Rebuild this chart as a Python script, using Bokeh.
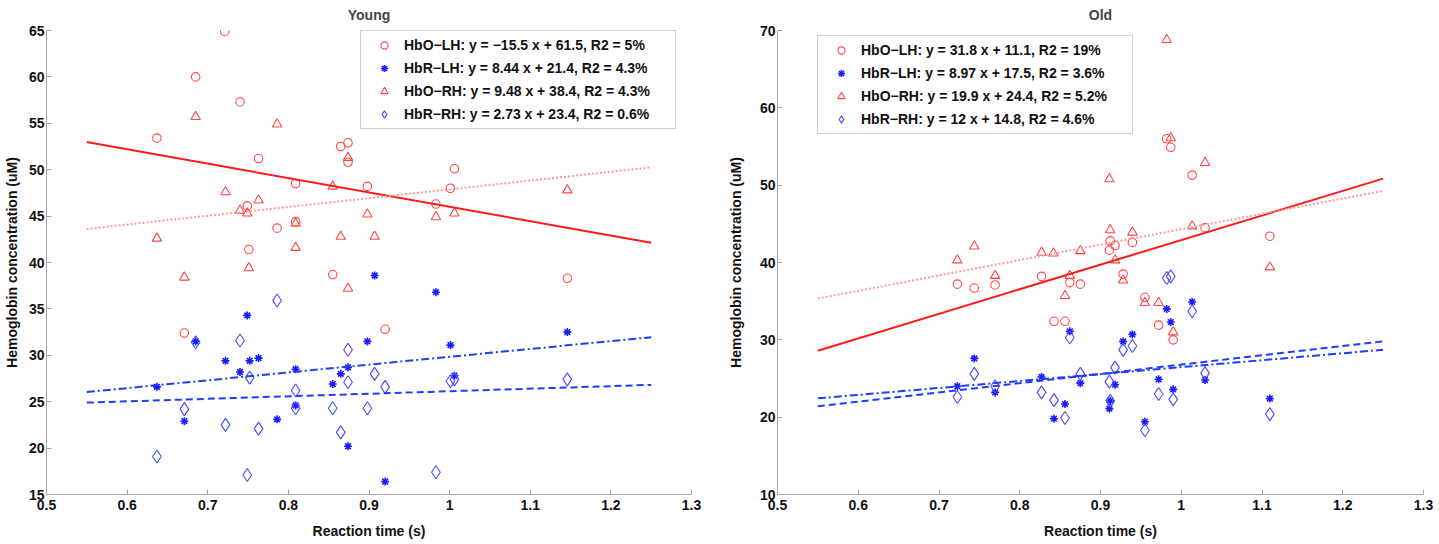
from bokeh.plotting import figure
from bokeh.layouts import row
from bokeh.models import Range1d, FixedTicker, CustomJSTickFormatter, Legend, LegendItem
from bokeh.embed import file_html
from bokeh.resources import INLINE

FONT = "Liberation Sans"

# ---------------- data ----------------
x_ticks = [0.5, 0.6, 0.7, 0.8, 0.9, 1.0, 1.1, 1.2, 1.3]
young_y_ticks = [15, 20, 25, 30, 35, 40, 45, 50, 55, 60, 65]
old_y_ticks = [10, 20, 30, 40, 50, 60, 70]
fit_x = [0.55, 1.25]

series_names = ["HbO−LH", "HbR−LH", "HbO−RH", "HbR−RH"]

# Young
young_hbo_lh_x = [0.721, 0.685, 0.740, 0.637, 0.763, 0.865, 0.874, 0.874, 0.809, 0.898, 0.749,
                  0.786, 0.809, 0.751, 1.006, 1.001, 0.983, 0.855, 0.671, 0.920, 1.146]
young_hbo_lh_y = [64.9, 60.0, 57.3, 53.4, 51.2, 52.5, 52.9, 50.8, 48.5, 48.2, 46.1,
                  43.7, 44.4, 41.4, 50.1, 48.0, 46.3, 38.7, 32.4, 32.8, 38.3]
young_hbr_lh_x = [0.907, 0.749, 0.685, 0.898, 0.722, 0.752, 0.763, 0.740, 0.809, 0.874, 0.865,
                  0.855, 0.637, 0.809, 0.671, 0.786, 0.874, 0.920, 0.983, 1.146, 1.001, 1.006]
young_hbr_lh_y = [38.6, 34.3, 31.5, 31.5, 29.4, 29.4, 29.7, 28.2, 28.5, 28.7, 28.0,
                  26.9, 26.6, 24.6, 22.9, 23.1, 20.2, 16.4, 36.8, 32.5, 31.1, 27.8]
young_hbo_rh_x = [0.685, 0.786, 0.874, 0.722, 0.763, 0.855, 0.740, 0.749, 0.809, 0.898, 0.637,
                  0.865, 0.907, 0.809, 0.751, 1.146, 0.983, 1.006, 0.671, 0.874]
young_hbo_rh_y = [55.7, 54.9, 51.3, 47.6, 46.7, 48.2, 45.6, 45.3, 44.2, 45.2, 42.6,
                  42.8, 42.8, 41.6, 39.4, 47.8, 44.9, 45.3, 38.4, 37.2]
young_hbr_rh_x = [0.786, 0.685, 0.740, 0.874, 0.907, 0.752, 0.874, 0.920, 0.809, 0.809, 0.855,
                  0.898, 0.671, 0.722, 0.763, 0.865, 0.637, 0.749, 0.983, 1.146, 1.001, 1.006]
young_hbr_rh_y = [35.9, 31.4, 31.6, 30.6, 28.0, 27.6, 27.1, 26.6, 26.2, 24.3, 24.3,
                  24.3, 24.2, 22.5, 22.1, 21.7, 19.1, 17.1, 17.4, 27.4, 27.2, 27.4]
young_slopes = [-15.5, 8.44, 9.48, 2.73]
young_intercepts = [61.5, 21.4, 38.4, 23.4]
young_labels = ["HbO−LH: y = −15.5 x + 61.5, R2 = 5%",
                "HbR−LH: y = 8.44 x + 21.4, R2 = 4.3%",
                "HbO−RH: y = 9.48 x + 38.4, R2 = 4.3%",
                "HbR−RH: y = 2.73 x + 23.4, R2 = 0.6%"]

# Old
old_hbo_lh_x = [0.7227, 0.7437, 0.7695, 0.827, 0.862, 0.875, 0.8424, 0.856, 0.982, 0.987, 1.0135,
                1.0295, 1.1097, 0.912, 0.9395, 0.911, 0.918, 0.928, 0.955, 0.972, 0.990]
old_hbo_lh_y = [37.2, 36.7, 37.1, 38.2, 37.4, 37.2, 32.4, 32.4, 56.0, 54.9, 51.3,
                44.5, 43.4, 42.8, 42.6, 41.6, 42.2, 38.5, 35.5, 31.9, 30.0]
old_hbr_lh_x = [0.862, 0.7437, 0.7227, 0.7695, 0.827, 0.8424, 0.856, 0.875, 1.0135, 0.982, 0.987,
                0.9395, 0.928, 0.918, 1.0295, 0.972, 0.990, 1.1097, 0.912, 0.911, 0.955]
old_hbr_lh_y = [31.1, 27.6, 24.0, 23.2, 25.2, 19.8, 21.7, 24.4, 34.9, 34.0, 32.3,
                30.7, 29.8, 24.2, 24.8, 24.9, 23.6, 22.4, 22.1, 21.1, 19.4]
old_hbo_rh_x = [0.7227, 0.7437, 0.827, 0.8417, 0.875, 0.7695, 0.862, 0.856, 0.982, 0.987, 1.0295,
                0.911, 0.912, 0.9395, 1.0135, 0.918, 1.1097, 0.928, 0.955, 0.972, 0.990]
old_hbo_rh_y = [40.3, 42.1, 41.3, 41.2, 41.5, 38.3, 38.3, 35.7, 68.8, 56.1, 52.9,
                50.8, 44.2, 43.9, 44.7, 40.3, 39.4, 37.7, 34.8, 34.8, 31.0]
old_hbr_rh_x = [0.862, 0.7437, 0.7227, 0.7695, 0.827, 0.8424, 0.856, 0.875, 0.982, 0.987, 1.0135,
                0.9395, 0.928, 0.918, 0.911, 1.0295, 0.972, 0.990, 1.1097, 0.912, 0.955]
old_hbr_rh_y = [30.3, 25.6, 22.6, 24.0, 23.2, 22.2, 19.9, 25.6, 38.0, 38.2, 33.7,
                29.2, 28.7, 26.4, 24.6, 25.7, 23.0, 22.3, 20.4, 22.1, 18.3]
old_slopes = [31.8, 8.97, 19.9, 12]
old_intercepts = [11.1, 17.5, 24.4, 14.8]
old_labels = ["HbO−LH: y = 31.8 x + 11.1, R2 = 19%",
              "HbR−LH: y = 8.97 x + 17.5, R2 = 3.6%",
              "HbO−RH: y = 19.9 x + 24.4, R2 = 5.2%",
              "HbR−RH: y = 12 x + 14.8, R2 = 4.6%"]

# ---------------- styles ----------------
RED_M = "#ff4545"
BLUE_S = "#1a1aff"
BLUE_D = "#4a4aff"
marker_styles = [
    dict(marker="circle", size=8.5, line_color=RED_M, fill_color=None, line_width=1.1),
    dict(marker="asterisk", size=8, line_color=BLUE_S, line_width=1.6),
    dict(marker="triangle", size=9.5, line_color=RED_M, fill_color=None, line_width=1.1),
    dict(marker="diamond", size=13, line_color=BLUE_D, fill_color=None, line_width=1.1),
]
line_styles = [
    dict(line_color="#ff1a1a", line_width=2, line_dash="solid"),
    dict(line_color="#1f3cff", line_width=2, line_dash="8 3 2 3"),
    dict(line_color="#ff9a9a", line_width=2, line_dash="2 2"),
    dict(line_color="#1f3cff", line_width=2, line_dash="7 4"),
]

TOP = 30
FRAME_H = 464
BOTTOM = 48


def make_panel(title, xs, ys, slopes, intercepts, labels, yr, yticks,
               width, b_left, b_right, legend_loc, ylab_standoff):
    p = figure(width=width, height=TOP + FRAME_H + BOTTOM, output_backend="svg",
               toolbar_location=None,
               x_range=Range1d(0.5, 1.3), y_range=Range1d(yr[0], yr[1]),
               min_border_left=b_left, min_border_right=b_right,
               min_border_top=TOP, min_border_bottom=BOTTOM, title=title)
    p.outline_line_color = None
    p.xgrid.visible = False
    p.ygrid.visible = False
    p.title.align = "center"
    p.title.vertical_align = "top"
    p.title.text_font = FONT
    p.title.text_font_style = "bold"
    p.title.text_font_size = "14px"
    p.title.standoff = 12

    p.xaxis.ticker = FixedTicker(ticks=x_ticks)
    p.xaxis.formatter = CustomJSTickFormatter(code="return String(Math.round(tick*10)/10);")
    p.yaxis.ticker = FixedTicker(ticks=yticks)
    p.xaxis.axis_label = "Reaction time (s)"
    p.yaxis.axis_label = "Hemoglobin concentration (uM)"
    for ax in (p.xaxis[0], p.yaxis[0]):
        ax.axis_line_color = "#a8a8a8"
        ax.major_tick_line_color = "#a8a8a8"
        ax.major_tick_in = 5
        ax.major_tick_out = 0
        ax.minor_tick_line_color = None
        ax.major_label_text_font = FONT
        ax.major_label_text_font_style = "bold"
        ax.major_label_text_font_size = "14px"
        ax.major_label_text_color = "#111111"
        ax.major_label_standoff = 2
        ax.axis_label_text_font = FONT
        ax.axis_label_text_font_style = "bold"
        ax.axis_label_text_font_size = "14px"
        ax.axis_label_text_color = "#111111"
    p.xaxis.major_label_standoff = 5
    p.xaxis.axis_label_standoff = 10
    p.yaxis.axis_label_standoff = ylab_standoff

    items = []
    for i in range(4):
        r = p.scatter(xs[i], ys[i], **marker_styles[i])
        items.append(LegendItem(label=labels[i], renderers=[r]))
    for i in range(4):
        fy = [slopes[i] * x + intercepts[i] for x in fit_x]
        p.line(fit_x, fy, **line_styles[i])

    leg = Legend(items=items, location=legend_loc)
    leg.label_text_font = FONT
    leg.label_text_font_style = "bold"
    leg.label_text_font_size = "14px"
    leg.label_text_color = "#111111"
    leg.glyph_width = 36
    leg.glyph_height = 18
    leg.label_height = 18
    leg.label_width = 266
    leg.label_standoff = 2
    leg.spacing = 5
    leg.padding = 5
    leg.margin = 0
    leg.border_line_color = "#a0a0a0"
    leg.border_line_width = 1
    leg.background_fill_alpha = 1
    p.add_layout(leg)
    return p


p1 = make_panel("Young",
                [young_hbo_lh_x, young_hbr_lh_x, young_hbo_rh_x, young_hbr_rh_x],
                [young_hbo_lh_y, young_hbr_lh_y, young_hbo_rh_y, young_hbr_rh_y],
                young_slopes, young_intercepts, young_labels, (15, 65), young_y_ticks,
                width=720, b_left=45, b_right=29, legend_loc=(314, 365), ylab_standoff=6)
p2 = make_panel("Old",
                [old_hbo_lh_x, old_hbr_lh_x, old_hbo_rh_x, old_hbr_rh_x],
                [old_hbo_lh_y, old_hbr_lh_y, old_hbo_rh_y, old_hbr_rh_y],
                old_slopes, old_intercepts, old_labels, (10, 70), old_y_ticks,
                width=715, b_left=57, b_right=12, legend_loc=(40, 360), ylab_standoff=13)

layout = row(p1, p2)
open("out.html", "w").write(file_html(layout, INLINE))
